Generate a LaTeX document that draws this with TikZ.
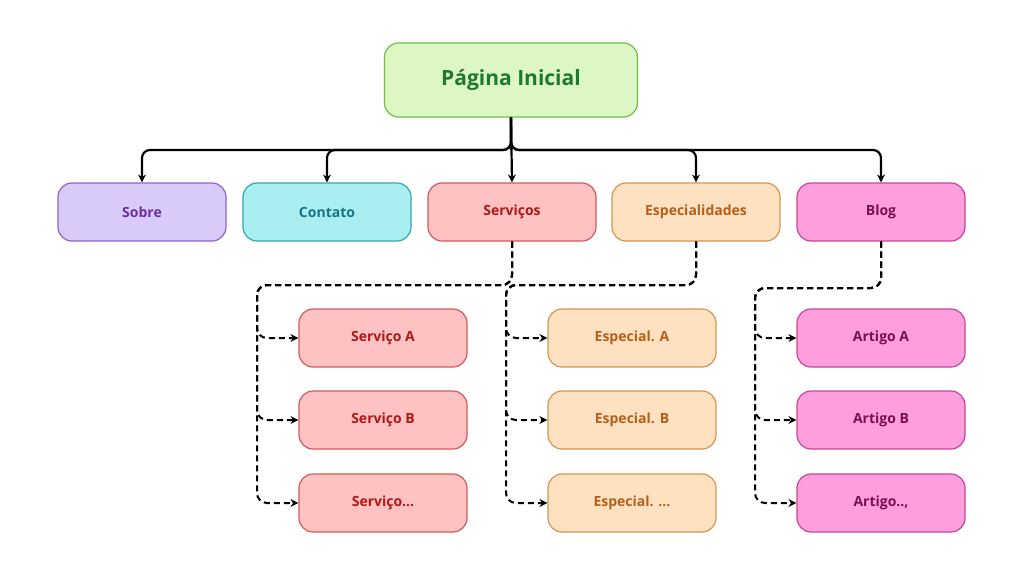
\documentclass[tikz,border=0pt]{standalone}
\usepackage{fontspec}
\setmainfont{Open Sans}
\usetikzlibrary{arrows.meta}
\definecolor{gF}{HTML}{DDF7C4}\definecolor{gD}{HTML}{6DBE45}\definecolor{gT}{HTML}{1E7A2E}
\definecolor{pF}{HTML}{D9CBF9}\definecolor{pD}{HTML}{8B64C8}\definecolor{pT}{HTML}{6A2FA0}
\definecolor{cF}{HTML}{A9EEF1}\definecolor{cD}{HTML}{2FA8B2}\definecolor{cT}{HTML}{1A7385}
\definecolor{rF}{HTML}{FFC2C2}\definecolor{rD}{HTML}{D25A5A}\definecolor{rT}{HTML}{B01818}
\definecolor{oF}{HTML}{FDE1C0}\definecolor{oD}{HTML}{D49452}\definecolor{oT}{HTML}{B5601A}
\definecolor{mF}{HTML}{FF9EDD}\definecolor{mD}{HTML}{C4459C}\definecolor{mT}{HTML}{7A1050}
\begin{document}
\begin{tikzpicture}[x=1pt,y=-1pt,
 box/.style={draw,line width=1.2pt,rounded corners=14pt,minimum width=168pt,minimum height=58pt,font=\fontsize{14}{16}\selectfont\bfseries,inner sep=0pt},
 pu/.style={box,fill=pF,draw=pD,text=pT},
 cy/.style={box,fill=cF,draw=cD,text=cT},
 re/.style={box,fill=rF,draw=rD,text=rT},
 or/.style={box,fill=oF,draw=oD,text=oT},
 ma/.style={box,fill=mF,draw=mD,text=mT},
 sol/.style={line width=2.2pt,rounded corners=8pt,-{Stealth[length=8pt,width=8pt]}},
 das/.style={line width=2pt,dashed,dash pattern=on 6pt off 4pt,rounded corners=10pt,-{Stealth[length=8pt,width=8pt]}}]
\useasboundingbox (0,0) rectangle (1024,576);
\node[box,fill=gF,draw=gD,text=gT,minimum width=253pt,minimum height=74pt,font=\fontsize{21}{24}\selectfont\bfseries] (root) at (511,80) {Página Inicial};
\node[pu] (sobre) at (142,212) {Sobre};
\node[cy] (cont) at (327,212) {Contato};
\node[re] (serv) at (512,212) {Serviços};
\node[or] (esp) at (696,212) {Especialidades};
\node[ma] (blog) at (881,212) {Blog};
\node[re] (sa) at (383,338) {Serviço A};
\node[re] (sb) at (383,420) {Serviço B};
\node[re] (sc) at (383,503) {Serviço...};
\node[or] (ea) at (632,338) {Especial. A};
\node[or] (eb) at (632,420) {Especial. B};
\node[or] (ec) at (632,503) {Especial. ...};
\node[ma] (aa) at (881,338) {Artigo A};
\node[ma] (ab) at (881,420) {Artigo B};
\node[ma] (ac) at (881,503) {Artigo..,};
\draw[line width=2.2pt] (root.south) -- (511,150);
\foreach \n in {sobre,cont,esp,blog}{\draw[sol] (root.south) |- (\n.north |- 0,150) -- (\n.north);}
\draw[sol] (root.south) -- (serv.north);
\foreach \p/\x/\yy/\k in {serv/257/285/s,esp/506/285/e,blog/755/288/a}{
 \foreach \c in {a,b,c}{\draw[das] (\p.south) |- (\x,\yy) |- (\k\c.west);}}
\end{tikzpicture}
\end{document}
